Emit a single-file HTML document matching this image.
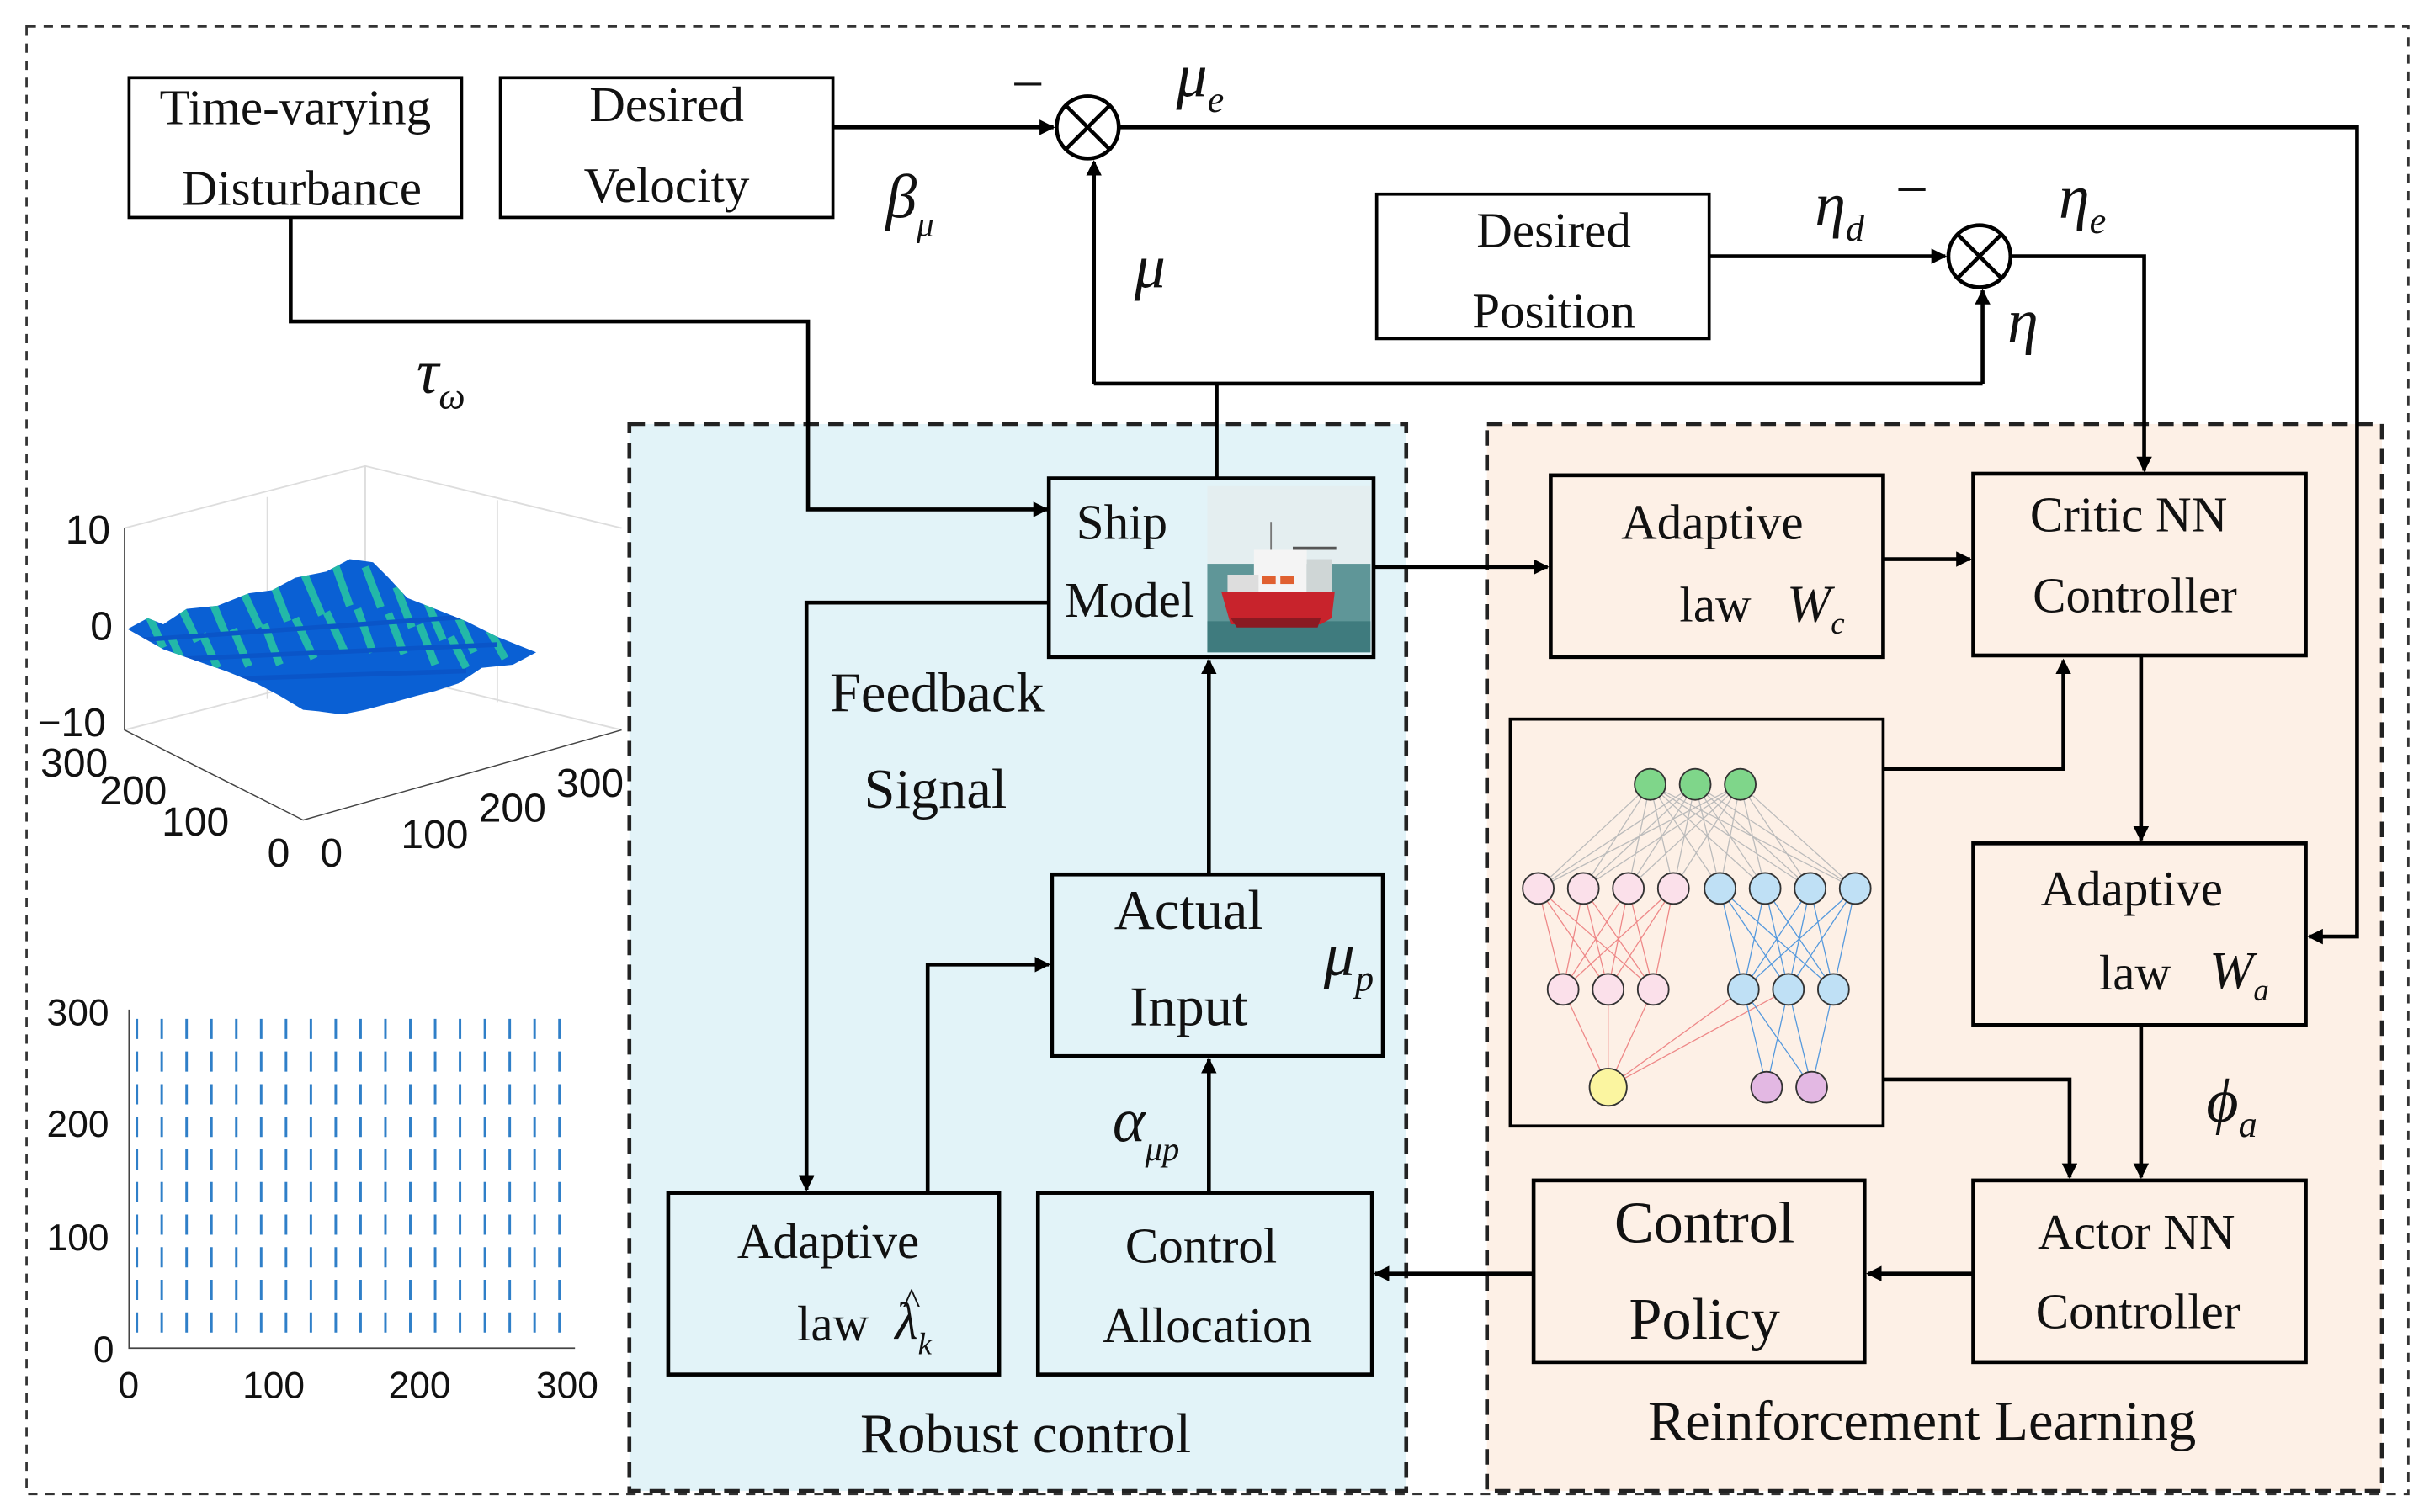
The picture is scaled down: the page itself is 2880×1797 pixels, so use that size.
<!DOCTYPE html>
<html><head><meta charset="utf-8"><style>
html,body{margin:0;padding:0;background:#fff}
svg{display:block}
.sv text{font-family:"Liberation Serif",serif;fill:#111}
.g{font-style:italic;font-size:40px}
.t{font-size:32px}
</style></head><body>
<svg class="sv" width="2880" height="1797" viewBox="0 0 1560 973.5" xmlns="http://www.w3.org/2000/svg">
<defs>
<marker id="a" markerWidth="10" markerHeight="10" refX="9" refY="5" orient="auto" markerUnits="userSpaceOnUse"><path d="M0,0 L10,5 L0,10 z" fill="#000"/></marker>
<clipPath id="surf"><path d="M82,405 L95,398 L105,402 L120,392 L140,390 L160,382 L175,380 L190,372 L210,368 L225,360 L240,362 L250,372 L262,385 L280,392 L300,400 L320,410 L345,420 L330,428 L310,430 L295,440 L280,445 L268,448 L250,453 L235,457 L220,460 L205,458 L195,457 L180,448 L165,440 L145,432 L125,425 L105,418 Z"/></clipPath>
</defs>
<rect x="17" y="17" width="1533" height="945" fill="none" stroke="#333" stroke-width="1.5" stroke-dasharray="6,5"/>
<rect x="405" y="273" width="500" height="687" fill="#e2f3f8" stroke="#222" stroke-width="2.5" stroke-dasharray="10,6"/>
<rect x="957" y="273" width="576" height="687" fill="#fdf0e6" stroke="#222" stroke-width="2.5" stroke-dasharray="10,6"/>
<g fill="none" stroke="#000" stroke-width="2.5">
<rect x="83" y="50" width="214" height="90" fill="#fff" stroke-width="2"/>
<rect x="322" y="50" width="214" height="90" fill="#fff" stroke-width="2"/>
<rect x="886" y="125" width="214" height="93" fill="#fff" stroke-width="2"/>
<circle cx="700" cy="82" r="20" fill="#fff"/><path d="M686,68 L714,96 M714,68 L686,96"/>
<circle cx="1274" cy="165" r="20" fill="#fff"/><path d="M1260,151 L1288,179 M1288,151 L1260,179"/>
<path d="M536,82 H678" marker-end="url(#a)"/>
<path d="M720,82 H1517 V603 H1486" marker-end="url(#a)"/>
<path d="M1100,165 H1252" marker-end="url(#a)"/>
<path d="M1294,165 H1380 V303" marker-end="url(#a)"/>
<path d="M783,307 V247"/>
<path d="M704,247 H1276"/>
<path d="M704,247 V104" marker-end="url(#a)"/>
<path d="M1276,247 V187" marker-end="url(#a)"/>
<path d="M187,140 V207 H520 V328 H674" marker-end="url(#a)"/>
<rect x="675" y="308" width="209" height="115"/>
<path d="M675,388 H519 V766" marker-end="url(#a)"/>
<rect x="677" y="563" width="213" height="117"/>
<path d="M778,563 V425" marker-end="url(#a)"/>
<rect x="430" y="768" width="213" height="117"/>
<path d="M597,768 V621 H675" marker-end="url(#a)"/>
<rect x="668" y="768" width="215" height="117"/>
<path d="M778,768 V682" marker-end="url(#a)"/>
<path d="M987,820 H885" marker-end="url(#a)"/>
<rect x="987" y="760" width="213" height="117"/>
<rect x="1270" y="760" width="214" height="117"/>
<path d="M1270,820 H1202" marker-end="url(#a)"/>
<path d="M884,365 H996" marker-end="url(#a)"/>
<rect x="998" y="306" width="214" height="117"/>
<path d="M1212,360 H1268" marker-end="url(#a)"/>
<rect x="1270" y="305" width="214" height="117"/>
<path d="M1378,422 V541" marker-end="url(#a)"/>
<rect x="1270" y="543" width="214" height="117"/>
<path d="M1378,660 V758" marker-end="url(#a)"/>
<rect x="972" y="463" width="240" height="262" stroke-width="2"/>
<path d="M1212,495 H1328 V425" marker-end="url(#a)"/>
<path d="M1212,695 H1332 V758" marker-end="url(#a)"/>
</g>
<!-- ship image -->
<rect x="777" y="313" width="105" height="107" fill="#e4eef0"/>
<rect x="777" y="363" width="105" height="57" fill="#5f9698"/>
<rect x="777" y="400" width="105" height="20" fill="#3f7b7e"/>
<path d="M786,381 L859,381 L857,398 L850,402 L792,402 Z" fill="#c8232c"/>
<path d="M792,398 L850,398 L848,404 L796,404 Z" fill="#8a1a22"/>
<rect x="807" y="354" width="34" height="27" fill="#f4f4f4"/>
<rect x="790" y="370" width="20" height="11" fill="#ddd"/>
<rect x="841" y="360" width="16" height="21" fill="#cfd6d6"/>
<rect x="812" y="371" width="9" height="5" fill="#e06030"/><rect x="824" y="371" width="9" height="5" fill="#e06030"/>
<path d="M832,353 L860,353" stroke="#555" stroke-width="2"/>
<path d="M818,354 V336" stroke="#777" stroke-width="1"/>
<!-- NN -->
<g stroke="#bbb" stroke-width="0.7">
<path d="M1062,505 L990,572 M1062,505 L1019,572 M1062,505 L1048,572 M1062,505 L1077,572 M1062,505 L1107,572 M1062,505 L1136,572 M1062,505 L1165,572 M1062,505 L1194,572 M1091,505 L990,572 M1091,505 L1019,572 M1091,505 L1048,572 M1091,505 L1077,572 M1091,505 L1107,572 M1091,505 L1136,572 M1091,505 L1165,572 M1091,505 L1194,572 M1120,505 L990,572 M1120,505 L1019,572 M1120,505 L1048,572 M1120,505 L1077,572 M1120,505 L1107,572 M1120,505 L1136,572 M1120,505 L1165,572 M1120,505 L1194,572"/>
</g>
<g stroke="#e88" stroke-width="0.7">
<path d="M990,572 L1006,637 M990,572 L1035,637 M990,572 L1064,637 M1019,572 L1006,637 M1019,572 L1035,637 M1019,572 L1064,637 M1048,572 L1006,637 M1048,572 L1035,637 M1048,572 L1064,637 M1077,572 L1006,637 M1077,572 L1035,637 M1077,572 L1064,637 M1006,637 L1035,700 M1035,637 L1035,700 M1064,637 L1035,700 M1122,637 L1035,700 M1151,637 L1035,700"/>
</g>
<g stroke="#59d" stroke-width="0.7">
<path d="M1107,572 L1122,637 M1107,572 L1151,637 M1107,572 L1180,637 M1136,572 L1122,637 M1136,572 L1151,637 M1136,572 L1180,637 M1165,572 L1122,637 M1165,572 L1151,637 M1165,572 L1180,637 M1194,572 L1122,637 M1194,572 L1151,637 M1194,572 L1180,637 M1122,637 L1137,700 M1151,637 L1137,700 M1151,637 L1166,700 M1180,637 L1166,700 M1122,637 L1166,700"/>
</g>
<g stroke="#333" stroke-width="1">
<circle cx="1062" cy="505" r="10" fill="#7fd68a"/><circle cx="1091" cy="505" r="10" fill="#7fd68a"/><circle cx="1120" cy="505" r="10" fill="#7fd68a"/>
<circle cx="990" cy="572" r="10" fill="#fbe0ea"/><circle cx="1019" cy="572" r="10" fill="#fbe0ea"/><circle cx="1048" cy="572" r="10" fill="#fbe0ea"/><circle cx="1077" cy="572" r="10" fill="#fbe0ea"/>
<circle cx="1107" cy="572" r="10" fill="#bfe0f5"/><circle cx="1136" cy="572" r="10" fill="#bfe0f5"/><circle cx="1165" cy="572" r="10" fill="#bfe0f5"/><circle cx="1194" cy="572" r="10" fill="#bfe0f5"/>
<circle cx="1006" cy="637" r="10" fill="#fbe0ea"/><circle cx="1035" cy="637" r="10" fill="#fbe0ea"/><circle cx="1064" cy="637" r="10" fill="#fbe0ea"/>
<circle cx="1122" cy="637" r="10" fill="#bfe0f5"/><circle cx="1151" cy="637" r="10" fill="#bfe0f5"/><circle cx="1180" cy="637" r="10" fill="#bfe0f5"/>
<circle cx="1035" cy="700" r="12" fill="#fbf5a0"/><circle cx="1137" cy="700" r="10" fill="#e3b8e3"/><circle cx="1166" cy="700" r="10" fill="#e3b8e3"/>
</g>
<!-- 3D plot -->
<g stroke="#ddd" stroke-width="1" fill="none">
<path d="M80,340 L235,300 L400,340 M235,300 V430 M80,470 L235,430 L400,470 M172,320 V450 M320,322 V452"/>
</g>
<path d="M80,340 V470 L195,528 L400,470" fill="none" stroke="#444" stroke-width="0.8"/>
<g clip-path="url(#surf)">
<rect x="70" y="350" width="290" height="120" fill="#0a60d4"/>
<g stroke="#26c2a4" stroke-width="5" opacity="0.9">
<path d="M95,395 l10,22 M115,388 l12,25 M135,384 l10,24 M155,378 l12,26 M175,374 l10,26 M195,368 l12,28 M215,362 l10,28 M235,365 l10,26 M255,378 l10,26 M275,388 l10,24 M295,398 l10,22 M315,406 l10,18"/>
<path d="M110,410 l8,18 M130,408 l10,22 M150,405 l10,24 M170,402 l10,26 M190,398 l12,26 M210,394 l12,26 M230,392 l10,28 M250,395 l10,26 M270,402 l10,26 M290,410 l10,20"/>
</g>
<g stroke="#0a55c8" stroke-width="3">
<path d="M90,412 L330,395 M100,425 L320,415 M120,438 L300,432"/>
</g>
</g>
<g font-size="26">
<text x="42" y="350" style="font-family:'Liberation Sans',sans-serif">10</text>
<text x="58" y="412" style="font-family:'Liberation Sans',sans-serif">0</text>
<text x="24" y="474" style="font-family:'Liberation Sans',sans-serif">−10</text>
<text x="26" y="500" style="font-family:'Liberation Sans',sans-serif">300</text>
<text x="64" y="518" style="font-family:'Liberation Sans',sans-serif">200</text>
<text x="104" y="538" style="font-family:'Liberation Sans',sans-serif">100</text>
<text x="172" y="558" style="font-family:'Liberation Sans',sans-serif">0</text>
<text x="206" y="558" style="font-family:'Liberation Sans',sans-serif">0</text>
<text x="258" y="546" style="font-family:'Liberation Sans',sans-serif">100</text>
<text x="308" y="529" style="font-family:'Liberation Sans',sans-serif">200</text>
<text x="358" y="513" style="font-family:'Liberation Sans',sans-serif">300</text>
</g>
<!-- quiver -->
<path d="M83,650 V868 H370" fill="none" stroke="#444" stroke-width="1"/>
<g stroke="#2f7fc8" stroke-width="1.6" fill="none">
<path d="M88,858 V652 M104,858 V652 M120,858 V652 M136,858 V652 M152,858 V652 M168,858 V652 M184,858 V652 M200,858 V652 M216,858 V652 M232,858 V652 M248,858 V652 M264,858 V652 M280,858 V652 M296,858 V652 M312,858 V652 M328,858 V652 M344,858 V652 M360,858 V652" stroke-dasharray="13,8"/>
</g>
<g font-size="24">
<text x="30" y="660" style="font-family:'Liberation Sans',sans-serif">300</text>
<text x="30" y="732" style="font-family:'Liberation Sans',sans-serif">200</text>
<text x="30" y="805" style="font-family:'Liberation Sans',sans-serif">100</text>
<text x="60" y="877" style="font-family:'Liberation Sans',sans-serif">0</text>
<text x="76" y="900" style="font-family:'Liberation Sans',sans-serif">0</text>
<text x="156" y="900" style="font-family:'Liberation Sans',sans-serif">100</text>
<text x="250" y="900" style="font-family:'Liberation Sans',sans-serif">200</text>
<text x="345" y="900" style="font-family:'Liberation Sans',sans-serif">300</text>
</g>
<!-- text -->
<g class="t" text-anchor="middle">
<text x="190" y="80">Time-varying</text><text x="194" y="132">Disturbance</text>
<text x="429" y="78">Desired</text><text x="429" y="130">Velocity</text>
<text x="1000" y="159">Desired</text><text x="1000" y="211">Position</text>
<text x="722" y="347">Ship</text><text x="727" y="397">Model</text>
<text x="603" y="458" font-size="36">Feedback</text><text x="602" y="520" font-size="36">Signal</text>
<text x="765" y="598" font-size="36">Actual</text><text x="765" y="660" font-size="36">Input</text>
<text x="533" y="810">Adaptive</text><text x="536" y="863">law</text>
<text x="773" y="813">Control</text><text x="777" y="864">Allocation</text>
<text x="1097" y="800" font-size="38">Control</text><text x="1097" y="862" font-size="38">Policy</text>
<text x="1375" y="804">Actor NN</text><text x="1376" y="855">Controller</text>
<text x="1102" y="347">Adaptive</text><text x="1104" y="400">law</text>
<text x="1370" y="342">Critic NN</text><text x="1374" y="394">Controller</text>
<text x="1372" y="583">Adaptive</text><text x="1374" y="637">law</text>
<text x="660" y="935" font-size="36">Robust control</text>
<text x="1237" y="927" font-size="36">Reinforcement Learning</text>
</g>
<g class="g">
<text x="653" y="62" font-style="normal" font-size="34">–</text>
<text x="757" y="62">μ<tspan font-size="24" dy="10">e</tspan></text>
<text x="570" y="140">β<tspan font-size="22" dy="12">μ</tspan></text>
<text x="730" y="185">μ</text>
<text x="268" y="253">τ<tspan font-size="24" dy="10">ω</tspan></text>
<text x="1168" y="145">η<tspan font-size="24" dy="10">d</tspan></text>
<text x="1222" y="130" font-style="normal" font-size="34">–</text>
<text x="1325" y="140">η<tspan font-size="24" dy="10">e</tspan></text>
<text x="1292" y="220">η</text>
<text x="852" y="628">μ<tspan font-size="24" dy="10">p</tspan></text>
<text x="716" y="735">α<tspan font-size="22" dy="12">μp</tspan></text>
<text x="1150" y="400" font-size="34">W<tspan font-size="20" dy="8">c</tspan></text>
<text x="1422" y="636" font-size="34">W<tspan font-size="20" dy="8">a</tspan></text>
<text x="1420" y="722">ϕ<tspan font-size="24" dy="10">a</tspan></text>
<text x="576" y="862" font-size="34">λ<tspan font-size="20" dy="10">k</tspan></text>
<text x="581" y="846" font-size="24" font-style="normal">^</text>
</g>
</svg>
</body></html>
